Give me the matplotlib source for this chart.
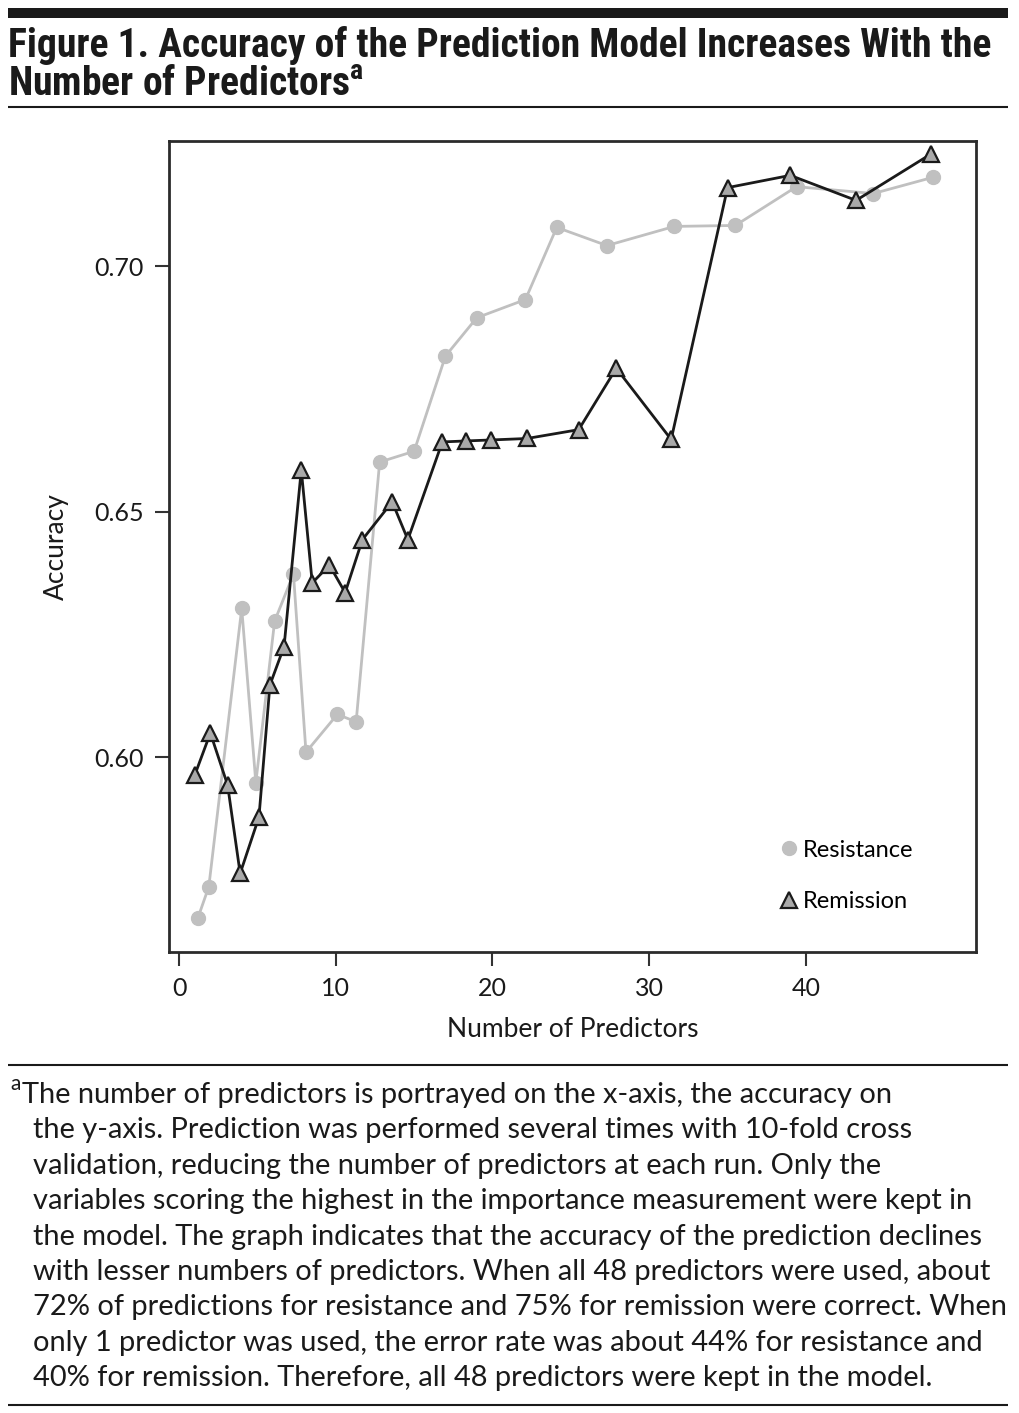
import matplotlib
matplotlib.use("Agg")
import matplotlib.pyplot as plt
from matplotlib import font_manager
from matplotlib.lines import Line2D

# data
res_n = [1.2, 1.9, 4.0, 4.9, 6.1, 7.3, 8.1, 10.1, 11.3, 12.8, 15.0, 17.0, 19.0,
         22.1, 24.1, 27.3, 31.6, 35.5, 39.4, 44.3, 48.1]
res_acc = [0.5672, 0.5736, 0.6303, 0.5948, 0.6277, 0.6373, 0.6010, 0.6087, 0.6072,
           0.6601, 0.6623, 0.6817, 0.6895, 0.6932, 0.7079, 0.7042, 0.7081, 0.7083,
           0.7162, 0.7148, 0.7181]

rem_n = [1.0, 2.0, 3.1, 3.9, 5.1, 5.8, 6.7, 7.8, 8.5, 9.6, 10.6, 11.7, 13.6, 14.6,
         16.8, 18.3, 19.9, 22.2, 25.5, 27.9, 31.4, 35.0, 39.0, 43.2, 48.0]
rem_acc = [0.5963, 0.6049, 0.5943, 0.5763, 0.5878, 0.6147, 0.6225, 0.6585, 0.6355,
           0.6391, 0.6335, 0.6443, 0.6520, 0.6443, 0.6642, 0.6644, 0.6646, 0.6649,
           0.6667, 0.6792, 0.6647, 0.7160, 0.7185, 0.7134, 0.7229]

x_ticks = [0, 10, 20, 30, 40]
y_ticks = [0.60, 0.65, 0.70]
y_tick_labels = ["0.60", "0.65", "0.70"]

title = ("Figure 1. Accuracy of the Prediction Model Increases With the\n"
         "Number of Predictors$^{a}$")
note_lines = [
    "The number of predictors is portrayed on the x-axis, the accuracy on",
    "the y-axis. Prediction was performed several times with 10-fold cross",
    "validation, reducing the number of predictors at each run. Only the",
    "variables scoring the highest in the importance measurement were kept in",
    "the model. The graph indicates that the accuracy of the prediction declines",
    "with lesser numbers of predictors. When all 48 predictors were used, about",
    "72% of predictions for resistance and 75% for remission were correct. When",
    "only 1 predictor was used, the error rate was about 44% for resistance and",
    "40% for remission. Therefore, all 48 predictors were kept in the model.",
]

# pick a condensed face for the title if one is around
names = {f.name for f in font_manager.fontManager.ttflist}
title_font = "Lato"
for cand in ["Roboto Condensed", "Liberation Sans Narrow", "Open Sans Condensed"]:
    if cand in names:
        title_font = cand
        break

plt.rcParams["font.family"] = ["Lato", "DejaVu Sans"]
plt.rcParams["mathtext.fontset"] = "custom"
plt.rcParams["mathtext.rm"] = title_font + ":bold"
plt.rcParams["mathtext.default"] = "rm"

W, H = 1019, 1413
fig = plt.figure(figsize=(W / 100, H / 100), dpi=100)


def fx(px):
    return px / W


def fy(py):
    return 1 - py / H


def hrule(py, lw):
    fig.add_artist(Line2D([fx(8), fx(1008)], [fy(py), fy(py)], color="#1a1a1a",
                          lw=lw, transform=fig.transFigure, solid_capstyle="butt"))


hrule(12.5, 7.2)
hrule(107, 1.5)
hrule(1065, 1.5)
hrule(1405, 1.5)

# baseline of the last title line
fig.text(fx(8), fy(95), title, fontsize=28.5, color="#1a1a1a", va="baseline",
         family=title_font, fontweight="bold", linespacing=1.0)

# axes
ax = fig.add_axes([fx(169), fy(952), (976 - 169) / W, (952 - 141) / H])
ax.plot(res_n, res_acc, color="#c0c0c0", lw=2, marker="o", ms=10,
        mfc="#c0c0c0", mec="#c0c0c0", zorder=2)
ax.plot(rem_n, rem_acc, color="#1a1a1a", lw=2, marker="^", ms=12,
        mfc="#a9a9a9", mec="#1a1a1a", mew=1.6, zorder=3)
ax.set_xlim(-0.64, 50.85)
ax.set_ylim(0.5603, 0.7255)
ax.set_xticks(x_ticks)
ax.set_yticks(y_ticks)
ax.set_yticklabels(y_tick_labels)
ax.tick_params(direction="out", length=10, width=1.5, color="#333333",
               labelsize=18, labelcolor="#1a1a1a", pad=8)
for sp in ax.spines.values():
    sp.set_linewidth(2)
    sp.set_color("#2b2b2b")
ax.set_xlabel("Number of Predictors", fontsize=19, color="#1a1a1a", labelpad=12)
ax.set_ylabel("Accuracy", fontsize=19, color="#1a1a1a", labelpad=18)

handles = [Line2D([], [], ls="none", marker="o", ms=10, mfc="#c0c0c0", mec="#c0c0c0"),
           Line2D([], [], ls="none", marker="^", ms=12, mfc="#a9a9a9", mec="#1a1a1a", mew=1.6)]
ax.legend(handles, ["Resistance", "Remission"], loc="upper left",
          bbox_to_anchor=(0.7385, 0.153), frameon=False, fontsize=17,
          borderpad=0, handlelength=1, handletextpad=0.1, labelspacing=1.3)

# footnote
fig.text(fx(10), fy(1090), "a", fontsize=15, color="#1a1a1a", va="baseline")
for i, line in enumerate(note_lines):
    x0 = 22 if i == 0 else 33
    fig.text(fx(x0), fy(1103 + 35.4 * i), line, fontsize=20.9, color="#1a1a1a", va="baseline")

fig.savefig("out.png", dpi=100)
